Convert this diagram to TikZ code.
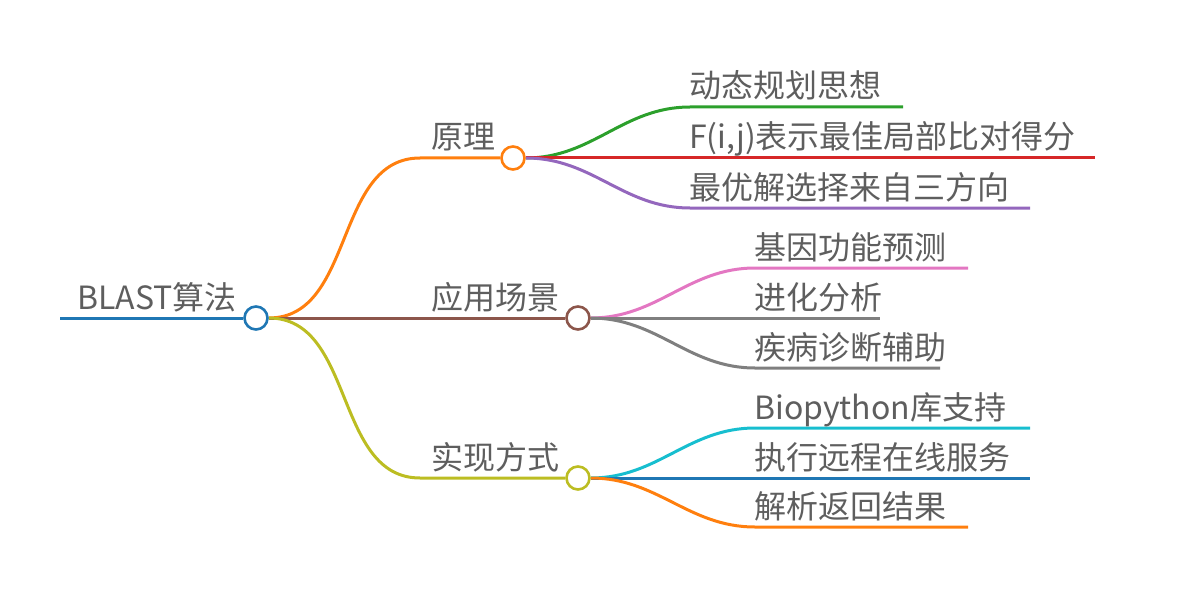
\documentclass[tikz,border=0pt]{standalone}
\usepackage{fontspec}
\setmainfont{Noto Sans CJK SC}
\usetikzlibrary{positioning,backgrounds}

\definecolor{cblue}{HTML}{1F77B4}
\definecolor{corange}{HTML}{FF7F0E}
\definecolor{cgreen}{HTML}{2CA02C}
\definecolor{cred}{HTML}{D62728}
\definecolor{cpurple}{HTML}{9467BD}
\definecolor{cbrown}{HTML}{8C564B}
\definecolor{cpink}{HTML}{E377C2}
\definecolor{cgray}{HTML}{7F7F7F}
\definecolor{colive}{HTML}{BCBD22}
\definecolor{ccyan}{HTML}{17BECF}
\definecolor{textgray}{HTML}{5E5E5E}

\tikzset{
  hub/.style={circle, draw=#1, line width=2.6pt, fill=white, minimum size=23pt, inner sep=0pt},
  lbl/.style={text=textgray, font=\fontsize{32}{34}\selectfont, inner sep=0pt, anchor=base west},
  link/.style={draw=#1, line width=3pt},
}

\begin{document}
\begin{tikzpicture}[x=1pt, y=-1pt]
  \useasboundingbox (0,0) rectangle (1198,596);

  % Define nodes
  \node[hub=cblue]   (root)     at (256,318) {};
  \node[hub=corange] (yuanli)   at (513,158) {};
  \node[hub=cbrown]  (yingyong) at (578,318) {};
  \node[hub=colive]  (shixian)  at (578,478) {};

  % Labels
  \node[lbl] (t-root)     at (77,309)  {BLAST算法};
  \node[lbl] (t-yuanli)   at (431,149) {原理};
  \node[lbl] (t-yingyong) at (431,309) {应用场景};
  \node[lbl] (t-shixian)  at (431,469) {实现方式};

  \node[lbl] (t-dp)     at (689,98)  {动态规划思想};
  \node[lbl] (t-fij)    at (689,149) {F(i,j)表示最佳局部比对得分};
  \node[lbl] (t-best)   at (689,199) {最优解选择来自三方向};
  \node[lbl] (t-gene)   at (754,259) {基因功能预测};
  \node[lbl] (t-evo)    at (754,309) {进化分析};
  \node[lbl] (t-dis)    at (754,359) {疾病诊断辅助};
  \node[lbl] (t-bio)    at (754,419) {Biopython库支持};
  \node[lbl] (t-remote) at (754,469) {执行远程在线服务};
  \node[lbl] (t-parse)  at (754,518) {解析返回结果};

  % Line ends
  \coordinate (rootin) at (60,318);
  \coordinate (b1) at (420,158);
  \coordinate (b3) at (420,478);
  \coordinate (c1) at (690,107);  \coordinate (c1e) at (903,107);
  \coordinate (c2e) at (1095,158);
  \coordinate (c3) at (690,208);  \coordinate (c3e) at (1030,208);
  \coordinate (c4) at (755,268);  \coordinate (c4e) at (968,268);
  \coordinate (c5e) at (880,318);
  \coordinate (c6) at (755,368);  \coordinate (c6e) at (940,368);
  \coordinate (c7) at (755,428);  \coordinate (c7e) at (1030,428);
  \coordinate (c8e) at (1030,478);
  \coordinate (c9) at (755,527);  \coordinate (c9e) at (968,527);

  % Connect the nodes
  \begin{scope}[on background layer]
    \draw[link=cblue] (rootin) -- (root);
    \draw[link=corange] (root.east) to[out=0,in=180] (b1) -- (yuanli);
    \draw[link=cbrown] (root) -- (yingyong);
    \draw[link=colive] (root.east) to[out=0,in=180] (b3) -- (shixian);

    \draw[link=cgreen]  (yuanli.east) to[out=0,in=180] (c1) -- (c1e);
    \draw[link=cred]    (yuanli) -- (c2e);
    \draw[link=cpurple] (yuanli.east) to[out=0,in=180] (c3) -- (c3e);

    \draw[link=cpink] (yingyong.east) to[out=0,in=180] (c4) -- (c4e);
    \draw[link=cgray] (yingyong) -- (c5e);
    \draw[link=cgray] (yingyong.east) to[out=0,in=180] (c6) -- (c6e);

    \draw[link=ccyan]   (shixian.east) to[out=0,in=180] (c7) -- (c7e);
    \draw[link=cblue]   (shixian) -- (c8e);
    \draw[link=corange] (shixian.east) to[out=0,in=180] (c9) -- (c9e);
  \end{scope}
\end{tikzpicture}
\end{document}
